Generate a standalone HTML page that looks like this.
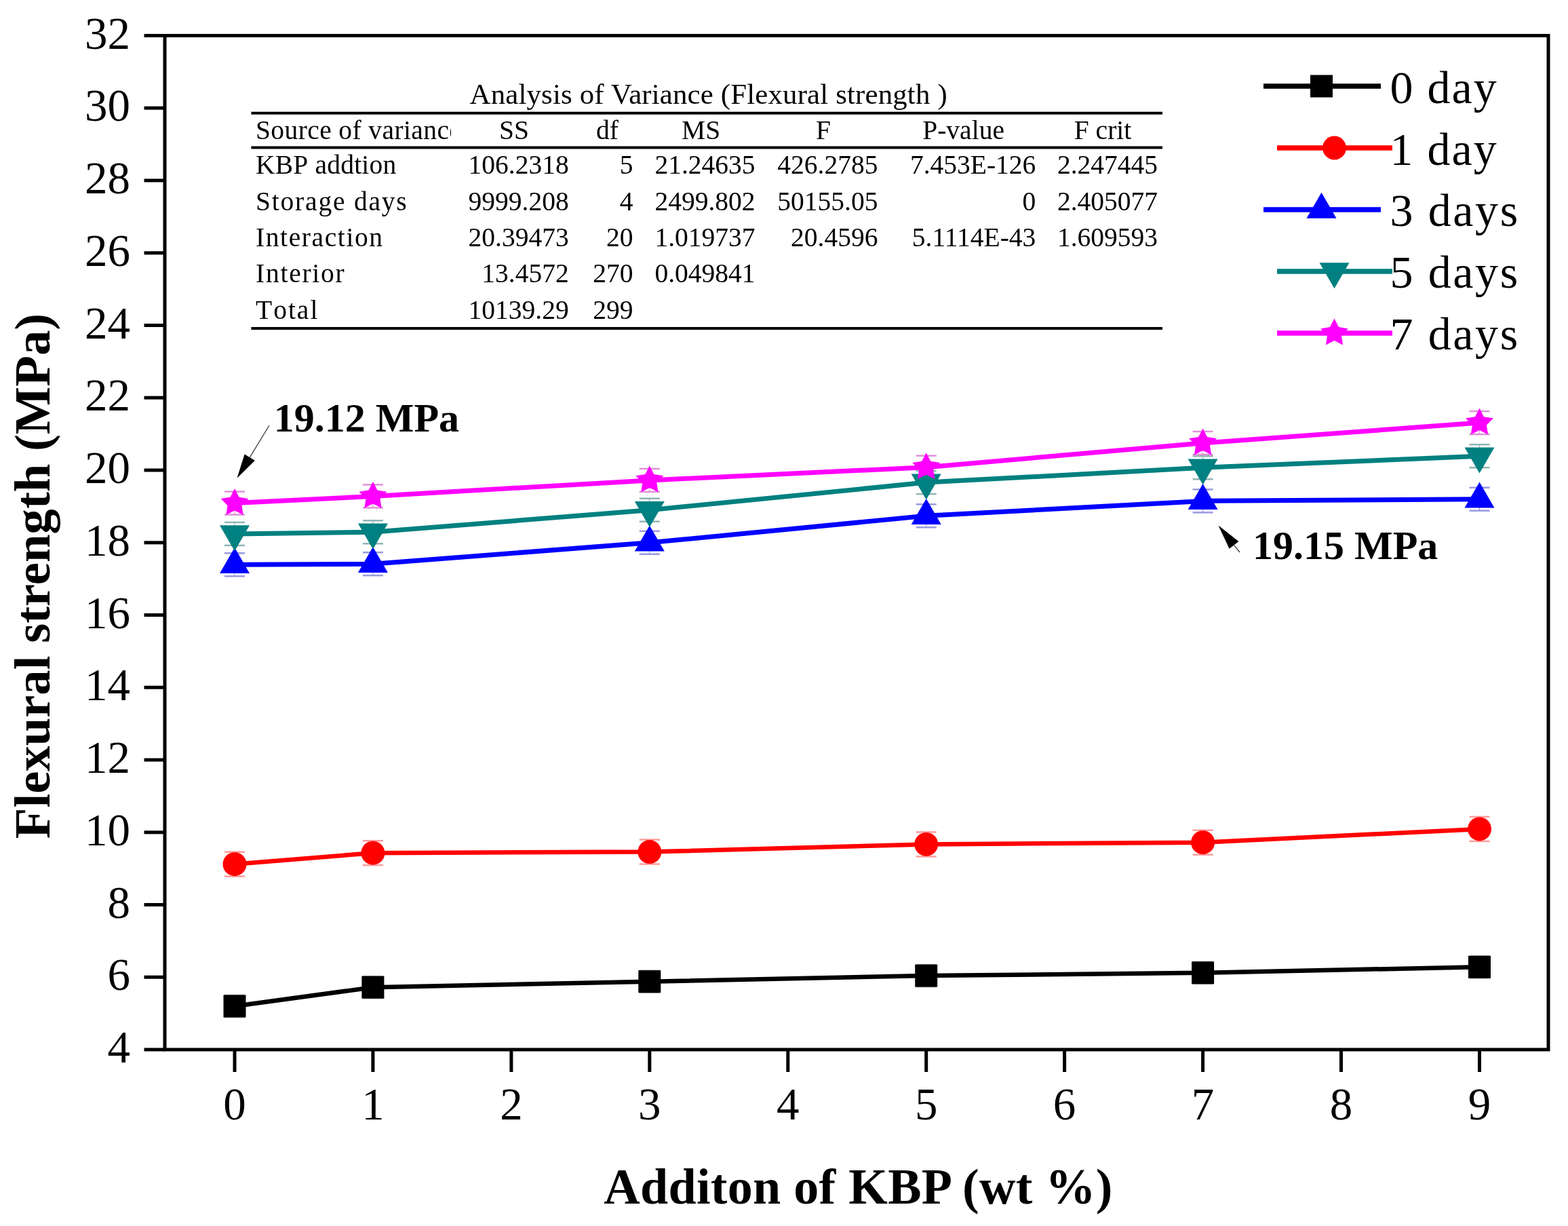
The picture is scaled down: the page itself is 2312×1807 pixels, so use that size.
<!DOCTYPE html>
<html><head><meta charset="utf-8"><title>Flexural strength</title>
<style>html,body{margin:0;padding:0;background:#fff;}body{width:2312px;height:1807px;overflow:hidden;}svg{display:block;}</style>
</head><body>
<svg width="2312" height="1807" viewBox="0 0 2312 1807">
<rect width="100%" height="100%" fill="#fff"/>
<g stroke="#000" stroke-width="5" fill="none" stroke-linecap="butt">
<rect x="243" y="52.5" width="2040" height="1494.5"/>
<line x1="212.5" x2="243" y1="1547.0" y2="1547.0"/>
<line x1="212.5" x2="243" y1="1440.2" y2="1440.2"/>
<line x1="212.5" x2="243" y1="1333.5" y2="1333.5"/>
<line x1="212.5" x2="243" y1="1226.8" y2="1226.8"/>
<line x1="212.5" x2="243" y1="1120.0" y2="1120.0"/>
<line x1="212.5" x2="243" y1="1013.2" y2="1013.2"/>
<line x1="212.5" x2="243" y1="906.5" y2="906.5"/>
<line x1="212.5" x2="243" y1="799.8" y2="799.8"/>
<line x1="212.5" x2="243" y1="693.0" y2="693.0"/>
<line x1="212.5" x2="243" y1="586.2" y2="586.2"/>
<line x1="212.5" x2="243" y1="479.5" y2="479.5"/>
<line x1="212.5" x2="243" y1="372.8" y2="372.8"/>
<line x1="212.5" x2="243" y1="266.0" y2="266.0"/>
<line x1="212.5" x2="243" y1="159.2" y2="159.2"/>
<line x1="212.5" x2="243" y1="52.5" y2="52.5"/>
<line x1="346.0" x2="346.0" y1="1547.0" y2="1580.0"/>
<line x1="549.9" x2="549.9" y1="1547.0" y2="1580.0"/>
<line x1="753.9" x2="753.9" y1="1547.0" y2="1580.0"/>
<line x1="957.8" x2="957.8" y1="1547.0" y2="1580.0"/>
<line x1="1161.8" x2="1161.8" y1="1547.0" y2="1580.0"/>
<line x1="1365.7" x2="1365.7" y1="1547.0" y2="1580.0"/>
<line x1="1569.6" x2="1569.6" y1="1547.0" y2="1580.0"/>
<line x1="1773.6" x2="1773.6" y1="1547.0" y2="1580.0"/>
<line x1="1977.5" x2="1977.5" y1="1547.0" y2="1580.0"/>
<line x1="2181.5" x2="2181.5" y1="1547.0" y2="1580.0"/>
</g>
<g font-family="Liberation Serif, Times New Roman, serif" font-size="67" fill="#000" text-anchor="end">
<text x="192" y="1566.0">4</text>
<text x="192" y="1459.2">6</text>
<text x="192" y="1352.5">8</text>
<text x="192" y="1245.8">10</text>
<text x="192" y="1139.0">12</text>
<text x="192" y="1032.2">14</text>
<text x="192" y="925.5">16</text>
<text x="192" y="818.8">18</text>
<text x="192" y="712.0">20</text>
<text x="192" y="605.2">22</text>
<text x="192" y="498.5">24</text>
<text x="192" y="391.8">26</text>
<text x="192" y="285.0">28</text>
<text x="192" y="178.2">30</text>
<text x="192" y="71.5">32</text>
</g>
<g font-family="Liberation Serif, Times New Roman, serif" font-size="67" fill="#000" text-anchor="middle">
<text x="346.0" y="1650">0</text>
<text x="549.9" y="1650">1</text>
<text x="753.9" y="1650">2</text>
<text x="957.8" y="1650">3</text>
<text x="1161.8" y="1650">4</text>
<text x="1365.7" y="1650">5</text>
<text x="1569.6" y="1650">6</text>
<text x="1773.6" y="1650">7</text>
<text x="1977.5" y="1650">8</text>
<text x="2181.5" y="1650">9</text>
</g>
<text x="1265.5" y="1773.5" font-family="Liberation Serif, Times New Roman, serif" font-weight="bold" font-size="74" letter-spacing="0.3" text-anchor="middle">Additon of KBP (wt %)</text>
<text transform="translate(73,849) rotate(-90)" font-family="Liberation Serif, Times New Roman, serif" font-weight="bold" font-size="74.7" text-anchor="middle">Flexural strength (MPa)</text>
<g stroke="#999999" stroke-width="2.5">
<line x1="346.0" x2="346.0" y1="1467.0" y2="1499.0" stroke-width="1.2"/>
<line x1="331.0" x2="361.0" y1="1467.0" y2="1467.0"/>
<line x1="331.0" x2="361.0" y1="1499.0" y2="1499.0"/>
<line x1="549.9" x2="549.9" y1="1439.2" y2="1471.2" stroke-width="1.2"/>
<line x1="534.9" x2="564.9" y1="1439.2" y2="1439.2"/>
<line x1="534.9" x2="564.9" y1="1471.2" y2="1471.2"/>
<line x1="957.8" x2="957.8" y1="1430.7" y2="1462.7" stroke-width="1.2"/>
<line x1="942.8" x2="972.8" y1="1430.7" y2="1430.7"/>
<line x1="942.8" x2="972.8" y1="1462.7" y2="1462.7"/>
<line x1="1365.7" x2="1365.7" y1="1422.1" y2="1454.1" stroke-width="1.2"/>
<line x1="1350.7" x2="1380.7" y1="1422.1" y2="1422.1"/>
<line x1="1350.7" x2="1380.7" y1="1454.1" y2="1454.1"/>
<line x1="1773.6" x2="1773.6" y1="1417.8" y2="1449.8" stroke-width="1.2"/>
<line x1="1758.6" x2="1788.6" y1="1417.8" y2="1417.8"/>
<line x1="1758.6" x2="1788.6" y1="1449.8" y2="1449.8"/>
<line x1="2181.5" x2="2181.5" y1="1409.3" y2="1441.3" stroke-width="1.2"/>
<line x1="2166.5" x2="2196.5" y1="1409.3" y2="1409.3"/>
<line x1="2166.5" x2="2196.5" y1="1441.3" y2="1441.3"/>
</g>
<g stroke="#ff9a9a" stroke-width="2.5">
<line x1="346.0" x2="346.0" y1="1255.7" y2="1291.7" stroke-width="1.2"/>
<line x1="331.0" x2="361.0" y1="1255.7" y2="1255.7"/>
<line x1="331.0" x2="361.0" y1="1291.7" y2="1291.7"/>
<line x1="549.9" x2="549.9" y1="1239.2" y2="1275.2" stroke-width="1.2"/>
<line x1="534.9" x2="564.9" y1="1239.2" y2="1239.2"/>
<line x1="534.9" x2="564.9" y1="1275.2" y2="1275.2"/>
<line x1="957.8" x2="957.8" y1="1237.6" y2="1273.6" stroke-width="1.2"/>
<line x1="942.8" x2="972.8" y1="1237.6" y2="1237.6"/>
<line x1="942.8" x2="972.8" y1="1273.6" y2="1273.6"/>
<line x1="1365.7" x2="1365.7" y1="1226.4" y2="1262.4" stroke-width="1.2"/>
<line x1="1350.7" x2="1380.7" y1="1226.4" y2="1226.4"/>
<line x1="1350.7" x2="1380.7" y1="1262.4" y2="1262.4"/>
<line x1="1773.6" x2="1773.6" y1="1223.7" y2="1259.7" stroke-width="1.2"/>
<line x1="1758.6" x2="1788.6" y1="1223.7" y2="1223.7"/>
<line x1="1758.6" x2="1788.6" y1="1259.7" y2="1259.7"/>
<line x1="2181.5" x2="2181.5" y1="1203.9" y2="1239.9" stroke-width="1.2"/>
<line x1="2166.5" x2="2196.5" y1="1203.9" y2="1203.9"/>
<line x1="2166.5" x2="2196.5" y1="1239.9" y2="1239.9"/>
</g>
<g stroke="#9a9ae0" stroke-width="2.5">
<line x1="346.0" x2="346.0" y1="815.3" y2="849.3" stroke-width="1.2"/>
<line x1="331.0" x2="361.0" y1="815.3" y2="815.3"/>
<line x1="331.0" x2="361.0" y1="849.3" y2="849.3"/>
<line x1="549.9" x2="549.9" y1="814.2" y2="848.2" stroke-width="1.2"/>
<line x1="534.9" x2="564.9" y1="814.2" y2="814.2"/>
<line x1="534.9" x2="564.9" y1="848.2" y2="848.2"/>
<line x1="957.8" x2="957.8" y1="782.8" y2="816.8" stroke-width="1.2"/>
<line x1="942.8" x2="972.8" y1="782.8" y2="782.8"/>
<line x1="942.8" x2="972.8" y1="816.8" y2="816.8"/>
<line x1="1365.7" x2="1365.7" y1="743.3" y2="777.3" stroke-width="1.2"/>
<line x1="1350.7" x2="1380.7" y1="743.3" y2="743.3"/>
<line x1="1350.7" x2="1380.7" y1="777.3" y2="777.3"/>
<line x1="1773.6" x2="1773.6" y1="721.4" y2="755.4" stroke-width="1.2"/>
<line x1="1758.6" x2="1788.6" y1="721.4" y2="721.4"/>
<line x1="1758.6" x2="1788.6" y1="755.4" y2="755.4"/>
<line x1="2181.5" x2="2181.5" y1="718.7" y2="752.7" stroke-width="1.2"/>
<line x1="2166.5" x2="2196.5" y1="718.7" y2="718.7"/>
<line x1="2166.5" x2="2196.5" y1="752.7" y2="752.7"/>
</g>
<g stroke="#90b4b4" stroke-width="2.5">
<line x1="346.0" x2="346.0" y1="769.9" y2="803.9" stroke-width="1.2"/>
<line x1="331.0" x2="361.0" y1="769.9" y2="769.9"/>
<line x1="331.0" x2="361.0" y1="803.9" y2="803.9"/>
<line x1="549.9" x2="549.9" y1="767.3" y2="801.3" stroke-width="1.2"/>
<line x1="534.9" x2="564.9" y1="767.3" y2="767.3"/>
<line x1="534.9" x2="564.9" y1="801.3" y2="801.3"/>
<line x1="957.8" x2="957.8" y1="734.7" y2="768.7" stroke-width="1.2"/>
<line x1="942.8" x2="972.8" y1="734.7" y2="734.7"/>
<line x1="942.8" x2="972.8" y1="768.7" y2="768.7"/>
<line x1="1365.7" x2="1365.7" y1="694.1" y2="728.1" stroke-width="1.2"/>
<line x1="1350.7" x2="1380.7" y1="694.1" y2="694.1"/>
<line x1="1350.7" x2="1380.7" y1="728.1" y2="728.1"/>
<line x1="1773.6" x2="1773.6" y1="672.3" y2="706.3" stroke-width="1.2"/>
<line x1="1758.6" x2="1788.6" y1="672.3" y2="672.3"/>
<line x1="1758.6" x2="1788.6" y1="706.3" y2="706.3"/>
<line x1="2181.5" x2="2181.5" y1="655.2" y2="689.2" stroke-width="1.2"/>
<line x1="2166.5" x2="2196.5" y1="655.2" y2="655.2"/>
<line x1="2166.5" x2="2196.5" y1="689.2" y2="689.2"/>
</g>
<g stroke="#e090d8" stroke-width="2.5">
<line x1="346.0" x2="346.0" y1="724.6" y2="758.6" stroke-width="1.2"/>
<line x1="331.0" x2="361.0" y1="724.6" y2="724.6"/>
<line x1="331.0" x2="361.0" y1="758.6" y2="758.6"/>
<line x1="549.9" x2="549.9" y1="714.4" y2="748.4" stroke-width="1.2"/>
<line x1="534.9" x2="564.9" y1="714.4" y2="714.4"/>
<line x1="534.9" x2="564.9" y1="748.4" y2="748.4"/>
<line x1="957.8" x2="957.8" y1="690.9" y2="724.9" stroke-width="1.2"/>
<line x1="942.8" x2="972.8" y1="690.9" y2="690.9"/>
<line x1="942.8" x2="972.8" y1="724.9" y2="724.9"/>
<line x1="1365.7" x2="1365.7" y1="671.7" y2="705.7" stroke-width="1.2"/>
<line x1="1350.7" x2="1380.7" y1="671.7" y2="671.7"/>
<line x1="1350.7" x2="1380.7" y1="705.7" y2="705.7"/>
<line x1="1773.6" x2="1773.6" y1="636.0" y2="670.0" stroke-width="1.2"/>
<line x1="1758.6" x2="1788.6" y1="636.0" y2="636.0"/>
<line x1="1758.6" x2="1788.6" y1="670.0" y2="670.0"/>
<line x1="2181.5" x2="2181.5" y1="606.1" y2="640.1" stroke-width="1.2"/>
<line x1="2166.5" x2="2196.5" y1="606.1" y2="606.1"/>
<line x1="2166.5" x2="2196.5" y1="640.1" y2="640.1"/>
</g>
<polyline fill="none" stroke="#000000" stroke-width="6.5" stroke-linejoin="round" points="346.0,1483.0 549.9,1455.2 957.8,1446.7 1365.7,1438.1 1773.6,1433.8 2181.5,1425.3"/>
<rect x="329.5" y="1466.5" width="33" height="33" fill="#000000"/>
<rect x="533.4" y="1438.7" width="33" height="33" fill="#000000"/>
<rect x="941.3" y="1430.2" width="33" height="33" fill="#000000"/>
<rect x="1349.2" y="1421.6" width="33" height="33" fill="#000000"/>
<rect x="1757.1" y="1417.3" width="33" height="33" fill="#000000"/>
<rect x="2165.0" y="1408.8" width="33" height="33" fill="#000000"/>
<polyline fill="none" stroke="#ff0000" stroke-width="6.5" stroke-linejoin="round" points="346.0,1273.7 549.9,1257.2 957.8,1255.6 1365.7,1244.4 1773.6,1241.7 2181.5,1221.9"/>
<circle cx="346.0" cy="1273.7" r="17.5" fill="#ff0000"/>
<circle cx="549.9" cy="1257.2" r="17.5" fill="#ff0000"/>
<circle cx="957.8" cy="1255.6" r="17.5" fill="#ff0000"/>
<circle cx="1365.7" cy="1244.4" r="17.5" fill="#ff0000"/>
<circle cx="1773.6" cy="1241.7" r="17.5" fill="#ff0000"/>
<circle cx="2181.5" cy="1221.9" r="17.5" fill="#ff0000"/>
<polyline fill="none" stroke="#0000ff" stroke-width="7" stroke-linejoin="round" points="346.0,832.3 549.9,831.2 957.8,799.8 1365.7,760.3 1773.6,738.4 2181.5,735.7"/>
<polygon fill="#0000ff" points="346.0,807.0 324.0,845.0 368.0,845.0"/>
<polygon fill="#0000ff" points="549.9,805.9 527.9,843.9 571.9,843.9"/>
<polygon fill="#0000ff" points="957.8,774.4 935.8,812.4 979.8,812.4"/>
<polygon fill="#0000ff" points="1365.7,734.9 1343.7,772.9 1387.7,772.9"/>
<polygon fill="#0000ff" points="1773.6,713.0 1751.6,751.0 1795.6,751.0"/>
<polygon fill="#0000ff" points="2181.5,710.4 2159.5,748.4 2203.5,748.4"/>
<polyline fill="none" stroke="#008080" stroke-width="7" stroke-linejoin="round" points="346.0,786.9 549.9,784.3 957.8,751.7 1365.7,711.1 1773.6,689.3 2181.5,672.2"/>
<polygon fill="#008080" points="346.0,812.3 324.0,774.3 368.0,774.3"/>
<polygon fill="#008080" points="549.9,809.6 527.9,771.6 571.9,771.6"/>
<polygon fill="#008080" points="957.8,777.0 935.8,739.0 979.8,739.0"/>
<polygon fill="#008080" points="1365.7,736.5 1343.7,698.5 1387.7,698.5"/>
<polygon fill="#008080" points="1773.6,714.6 1751.6,676.6 1795.6,676.6"/>
<polygon fill="#008080" points="2181.5,697.5 2159.5,659.5 2203.5,659.5"/>
<polyline fill="none" stroke="#ff00ff" stroke-width="7" stroke-linejoin="round" points="346.0,741.6 549.9,731.4 957.8,707.9 1365.7,688.7 1773.6,653.0 2181.5,623.1"/>
<g fill="#ff00ff"><polygon points="346.0,720.1 352.5,732.7 366.4,734.9 356.5,745.0 358.6,759.0 346.0,752.6 333.4,759.0 335.5,745.0 325.6,734.9 339.5,732.7"/></g>
<g fill="#ff00ff"><polygon points="549.9,709.9 556.4,722.5 570.4,724.8 560.4,734.8 562.6,748.8 549.9,742.4 537.3,748.8 539.5,734.8 529.5,724.8 543.5,722.5"/></g>
<g fill="#ff00ff"><polygon points="957.8,686.4 964.3,699.0 978.3,701.3 968.3,711.3 970.5,725.3 957.8,718.9 945.2,725.3 947.4,711.3 937.4,701.3 951.4,699.0"/></g>
<g fill="#ff00ff"><polygon points="1365.7,667.2 1372.2,679.8 1386.1,682.1 1376.2,692.1 1378.3,706.1 1365.7,699.7 1353.1,706.1 1355.2,692.1 1345.3,682.1 1359.2,679.8"/></g>
<g fill="#ff00ff"><polygon points="1773.6,631.5 1780.0,644.1 1794.0,646.3 1784.0,656.4 1786.2,670.4 1773.6,664.0 1760.9,670.4 1763.1,656.4 1753.1,646.3 1767.1,644.1"/></g>
<g fill="#ff00ff"><polygon points="2181.5,601.6 2187.9,614.2 2201.9,616.4 2191.9,626.5 2194.1,640.5 2181.5,634.1 2168.8,640.5 2171.0,626.5 2161.0,616.4 2175.0,614.2"/></g>
<line x1="1863" x2="2036" y1="127" y2="127" stroke="#000000" stroke-width="7.5"/>
<rect x="1932.0" y="110.5" width="33" height="33" fill="#000000"/>
<text x="2049.5" y="151.8" font-family="Liberation Serif, Times New Roman, serif" font-size="68" letter-spacing="2">0 day</text>
<line x1="1883" x2="2053" y1="218" y2="218" stroke="#ff0000" stroke-width="7.5"/>
<circle cx="1967.5" cy="218.0" r="17.5" fill="#ff0000"/>
<text x="2049.5" y="242.5" font-family="Liberation Serif, Times New Roman, serif" font-size="68" letter-spacing="2">1 day</text>
<line x1="1863" x2="2036" y1="309" y2="309" stroke="#0000ff" stroke-width="7.5"/>
<polygon fill="#0000ff" points="1948.5,283.7 1926.5,321.7 1970.5,321.7"/>
<text x="2049.5" y="333.2" font-family="Liberation Serif, Times New Roman, serif" font-size="68" letter-spacing="2.6">3 days</text>
<line x1="1883" x2="2053" y1="400" y2="400" stroke="#008080" stroke-width="7.5"/>
<polygon fill="#008080" points="1967.5,425.3 1945.5,387.3 1989.5,387.3"/>
<text x="2049.5" y="423.9" font-family="Liberation Serif, Times New Roman, serif" font-size="68" letter-spacing="2.6">5 days</text>
<line x1="1883" x2="2053" y1="491" y2="491" stroke="#ff00ff" stroke-width="7.5"/>
<g fill="#ff00ff"><polygon points="1967.5,469.5 1974.0,482.1 1987.9,484.4 1978.0,494.4 1980.1,508.4 1967.5,502.0 1954.9,508.4 1957.0,494.4 1947.1,484.4 1961.0,482.1"/></g>
<text x="2049.5" y="514.6" font-family="Liberation Serif, Times New Roman, serif" font-size="68" letter-spacing="2.6">7 days</text>
<text x="403.8" y="636.2" font-family="Liberation Serif, Times New Roman, serif" font-weight="bold" font-size="60">19.12 MPa</text>
<text x="1847" y="824.4" font-family="Liberation Serif, Times New Roman, serif" font-weight="bold" font-size="60">19.15 MPa</text>
<line x1="397" y1="627" x2="368.3" y2="674.1" stroke="#333" stroke-width="1.2"/><polygon fill="#000" points="349.5,704.8 360.6,669.4 375.9,678.8"/>
<line x1="1828" y1="814" x2="1819.5" y2="803.4" stroke="#333" stroke-width="1.2"/><polygon fill="#000" points="1796.5,774.4 1826.4,797.9 1812.6,808.8"/>
<g stroke="#000" stroke-width="4">
<line x1="370.4" x2="1714" y1="166.7" y2="166.7"/>
<line x1="370.4" x2="1714" y1="217.5" y2="217.5"/>
<line x1="370.4" x2="1714" y1="484" y2="484"/>
</g>
<text x="692.6" y="152.6" font-family="Liberation Serif, Times New Roman, serif" font-size="42.8" letter-spacing="0.18">Analysis of Variance (Flexural strength )</text>
<defs><clipPath id="c1"><rect x="370" y="160" width="295" height="340"/></clipPath></defs>
<text x="377" y="204.8" font-family="Liberation Serif, Times New Roman, serif" font-size="39.5" fill="#000" letter-spacing="0.4" clip-path="url(#c1)">Source of variance</text>
<text x="758" y="204.8" font-family="Liberation Serif, Times New Roman, serif" font-size="39.5" fill="#000" text-anchor="middle">SS</text>
<text x="895.5" y="204.8" font-family="Liberation Serif, Times New Roman, serif" font-size="39.5" fill="#000" text-anchor="middle">df</text>
<text x="1033.6" y="204.8" font-family="Liberation Serif, Times New Roman, serif" font-size="39.5" fill="#000" text-anchor="middle">MS</text>
<text x="1214" y="204.8" font-family="Liberation Serif, Times New Roman, serif" font-size="39.5" fill="#000" text-anchor="middle">F</text>
<text x="1420.6" y="204.8" font-family="Liberation Serif, Times New Roman, serif" font-size="39.5" fill="#000" text-anchor="middle">P-value</text>
<text x="1626" y="204.8" font-family="Liberation Serif, Times New Roman, serif" font-size="39.5" fill="#000" text-anchor="middle">F crit</text>
<text x="377" y="256.4" font-family="Liberation Serif, Times New Roman, serif" font-size="39.5" fill="#000" letter-spacing="0.2" style="font-kerning:none">KBP addtion</text>
<text x="838.7" y="256.4" font-family="Liberation Serif, Times New Roman, serif" font-size="39.5" fill="#000" text-anchor="end">106.2318</text>
<text x="933.5" y="256.4" font-family="Liberation Serif, Times New Roman, serif" font-size="39.5" fill="#000" text-anchor="end">5</text>
<text x="1113.5" y="256.4" font-family="Liberation Serif, Times New Roman, serif" font-size="39.5" fill="#000" text-anchor="end">21.24635</text>
<text x="1294.4" y="256.4" font-family="Liberation Serif, Times New Roman, serif" font-size="39.5" fill="#000" text-anchor="end">426.2785</text>
<text x="1527.3" y="256.4" font-family="Liberation Serif, Times New Roman, serif" font-size="39.5" fill="#000" text-anchor="end">7.453E-126</text>
<text x="1707.1" y="256.4" font-family="Liberation Serif, Times New Roman, serif" font-size="39.5" fill="#000" text-anchor="end">2.247445</text>
<text x="377" y="309.75" font-family="Liberation Serif, Times New Roman, serif" font-size="39.5" fill="#000" letter-spacing="1.8" style="font-kerning:none">Storage days</text>
<text x="838.7" y="309.75" font-family="Liberation Serif, Times New Roman, serif" font-size="39.5" fill="#000" text-anchor="end">9999.208</text>
<text x="933.5" y="309.75" font-family="Liberation Serif, Times New Roman, serif" font-size="39.5" fill="#000" text-anchor="end">4</text>
<text x="1113.5" y="309.75" font-family="Liberation Serif, Times New Roman, serif" font-size="39.5" fill="#000" text-anchor="end">2499.802</text>
<text x="1294.4" y="309.75" font-family="Liberation Serif, Times New Roman, serif" font-size="39.5" fill="#000" text-anchor="end">50155.05</text>
<text x="1527.3" y="309.75" font-family="Liberation Serif, Times New Roman, serif" font-size="39.5" fill="#000" text-anchor="end">0</text>
<text x="1707.1" y="309.75" font-family="Liberation Serif, Times New Roman, serif" font-size="39.5" fill="#000" text-anchor="end">2.405077</text>
<text x="377" y="363.1" font-family="Liberation Serif, Times New Roman, serif" font-size="39.5" fill="#000" letter-spacing="1.6" style="font-kerning:none">Interaction</text>
<text x="838.7" y="363.1" font-family="Liberation Serif, Times New Roman, serif" font-size="39.5" fill="#000" text-anchor="end">20.39473</text>
<text x="933.5" y="363.1" font-family="Liberation Serif, Times New Roman, serif" font-size="39.5" fill="#000" text-anchor="end">20</text>
<text x="1113.5" y="363.1" font-family="Liberation Serif, Times New Roman, serif" font-size="39.5" fill="#000" text-anchor="end">1.019737</text>
<text x="1294.4" y="363.1" font-family="Liberation Serif, Times New Roman, serif" font-size="39.5" fill="#000" text-anchor="end">20.4596</text>
<text x="1527.3" y="363.1" font-family="Liberation Serif, Times New Roman, serif" font-size="39.5" fill="#000" text-anchor="end">5.1114E-43</text>
<text x="1707.1" y="363.1" font-family="Liberation Serif, Times New Roman, serif" font-size="39.5" fill="#000" text-anchor="end">1.609593</text>
<text x="377" y="416.45" font-family="Liberation Serif, Times New Roman, serif" font-size="39.5" fill="#000" letter-spacing="1.75" style="font-kerning:none">Interior</text>
<text x="838.7" y="416.45" font-family="Liberation Serif, Times New Roman, serif" font-size="39.5" fill="#000" text-anchor="end">13.4572</text>
<text x="933.5" y="416.45" font-family="Liberation Serif, Times New Roman, serif" font-size="39.5" fill="#000" text-anchor="end">270</text>
<text x="1113.5" y="416.45" font-family="Liberation Serif, Times New Roman, serif" font-size="39.5" fill="#000" text-anchor="end">0.049841</text>
<text x="377" y="469.8" font-family="Liberation Serif, Times New Roman, serif" font-size="39.5" fill="#000" letter-spacing="2.0" style="font-kerning:none">Total</text>
<text x="838.7" y="469.8" font-family="Liberation Serif, Times New Roman, serif" font-size="39.5" fill="#000" text-anchor="end">10139.29</text>
<text x="933.5" y="469.8" font-family="Liberation Serif, Times New Roman, serif" font-size="39.5" fill="#000" text-anchor="end">299</text>
</svg>
</body></html>
